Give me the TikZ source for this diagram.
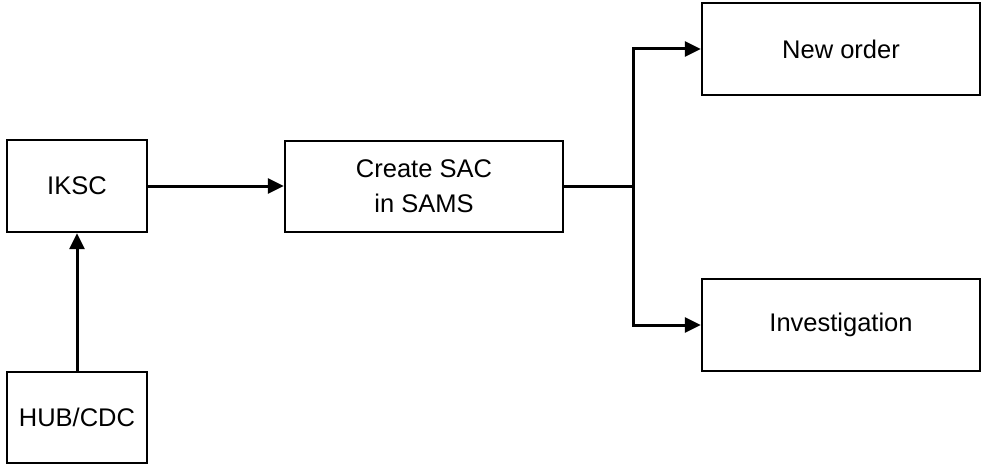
\documentclass[tikz,border=0pt]{standalone}
\usepackage{fontspec}
\setmainfont{Liberation Sans}
\usetikzlibrary{arrows.meta}
\begin{document}
\begin{tikzpicture}[x=1pt,y=-1pt,
  box/.style={draw=black, line width=2.4pt, inner sep=0pt, align=center,
    font=\fontsize{25.5}{35}\selectfont},
  flow/.style={line width=3pt, line join=miter, -{Triangle[length=16pt,width=15pt]}},
  plain/.style={line width=3pt}]
\useasboundingbox (0,0) rectangle (981,465);
% boxes
\node[box, minimum width=140pt, minimum height=92pt] (iksc) at (77,186) {IKSC};
\node[box, minimum width=140pt, minimum height=91pt] (hub) at (77,417.5) {HUB/CDC};
\node[box, minimum width=278pt, minimum height=91pt] (create) at (424,186.5) {Create SAC\\in SAMS};
\node[box, minimum width=278pt, minimum height=92pt] (neworder) at (841,49) {New order};
\node[box, minimum width=278pt, minimum height=92pt] (invest) at (841,325) {Investigation};
% connectors
\coordinate (split) at (633,186);
\draw[flow] (hub) -- (iksc);
\draw[flow] (iksc.east) -- (iksc.east -| create.west);
\draw[plain] (create.east |- split) -- (split);
\draw[flow] (split) |- (neworder.west);
\draw[flow] (split) |- (invest.west);
\end{tikzpicture}
\end{document}
